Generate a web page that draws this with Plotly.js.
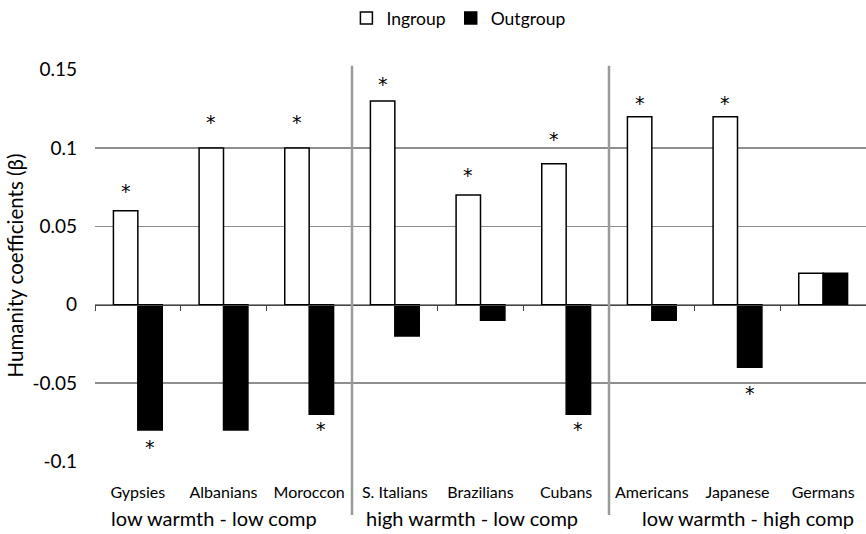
<!DOCTYPE html>
<html>
<head>
<meta charset="utf-8">
<script src="https://cdn.plot.ly/plotly-3.0.1.min.js"></script>
<style>html,body{margin:0;padding:0;background:#fff;}#chart{width:866px;height:534px;}</style>
</head>
<body>
<div id="chart"></div>
<script>
// ---- data ----
const categories = ["Gypsies", "Albanians", "Moroccon", "S. Italians", "Brazilians", "Cubans", "Americans", "Japanese", "Germans"];
const ingroup  = [0.06, 0.10, 0.10, 0.13, 0.07, 0.09, 0.12, 0.12, 0.02];
const outgroup = [-0.08, -0.08, -0.07, -0.02, -0.01, -0.07, -0.01, -0.04, 0.02];
// asterisk (significance) marks: y position of each mark, null = no mark
const starIngroup  = [0.076, 0.120, 0.120, 0.144, 0.086, 0.109, 0.132, 0.132, null];
const starOutgroup = [-0.088, null, -0.076, null, null, -0.076, null, -0.053, null];
const groupLabels = ["low warmth - low comp", "high warmth - low comp", "low warmth - high comp"];
const groupCenters = [1, 4, 7];
const yTicks = [-0.1, -0.05, 0, 0.05, 0.1, 0.15];
const yTickText = ["-0.1", "-0.05", "0", "0.05", "0.1", "0.15"];

const FONT = "Lato, 'Open Sans', sans-serif";
const STARFONT = "'DejaVu Sans', sans-serif";

const traces = [
  {type: "bar", name: "Ingroup", x: categories, y: ingroup,
   marker: {color: "#ffffff", line: {color: "#000000", width: 1.5}}, hoverinfo: "none"},
  {type: "bar", name: "Outgroup", x: categories, y: outgroup,
   marker: {color: "#000000", line: {color: "#000000", width: 1.5}}, hoverinfo: "none"}
];

const annotations = [];
const halfBar = 12.3;
categories.forEach((c, i) => {
  if (starIngroup[i] !== null) annotations.push({x: c, y: starIngroup[i], xref: "x", yref: "y", text: "*", showarrow: false, xshift: -halfBar, yshift: -5, font: {family: STARFONT, size: 19, color: "#000"}});
  if (starOutgroup[i] !== null) annotations.push({x: c, y: starOutgroup[i], xref: "x", yref: "y", text: "*", showarrow: false, xshift: halfBar, yshift: -5, font: {family: STARFONT, size: 19, color: "#000"}});
});
const groupShift = [-10, -9, 10];
groupLabels.forEach((g, k) => {
  annotations.push({x: groupCenters[k], y: -0.143, xref: "x", yref: "paper", text: g, showarrow: false, xshift: groupShift[k], yanchor: "middle", font: {family: FONT, size: 20, color: "#000"}});
});

const shapes = [2.5, 5.5].map(v => ({type: "line", xref: "x", yref: "paper", x0: v, x1: v, y0: -0.135, y1: 1.008, line: {color: "#9a9a9a", width: 2.5}, layer: "above"}));

const n = categories.length;
const layout = {
  width: 866, height: 534,
  margin: {l: 95, r: 0, t: 69, b: 72},
  paper_bgcolor: "#fff", plot_bgcolor: "#fff",
  font: {family: FONT, color: "#000"},
  barmode: "group", bargap: 0.43, bargroupgap: 0,
  showlegend: true,
  legend: {orientation: "h", xref: "container", yref: "container", x: 0.400, y: 1, xanchor: "left", yanchor: "top",
           itemwidth: 30, font: {family: FONT, size: 17.5, color: "#000"}, traceorder: "normal"},
  xaxis: {type: "category", categoryorder: "array", categoryarray: categories, range: [-0.5, n - 0.5],
          showgrid: false, zeroline: false, showline: false, ticks: "", ticklabelstandoff: 19,
          tickfont: {family: FONT, size: 16, color: "#000"}},
  xaxis2: {overlaying: "x", anchor: "free", position: (0 - (-0.1)) / (0.15 - (-0.1)), side: "bottom",
           range: [-0.5, n - 0.5], tickvals: Array.from({length: n + 1}, (_, i) => i - 0.5), showticklabels: false,
           ticks: "outside", ticklen: 5, tickcolor: "#444", tickwidth: 1, showline: true, linecolor: "#444", linewidth: 1,
           showgrid: false, zeroline: false},
  yaxis: {range: [-0.1005, 0.1505], tickvals: yTicks, ticktext: yTickText, showgrid: true, gridcolor: "#8e8e8e", gridwidth: 1.6,
          zeroline: false, showline: false, ticks: "", ticklabelstandoff: 17,
          tickfont: {family: FONT, size: 19, color: "#000"},
          title: {text: "Humanity coefficients (β)", font: {family: FONT, size: 20.5, color: "#000"}, standoff: 3}},
  annotations: annotations,
  shapes: shapes
};
// invisible trace to activate xaxis2
traces.push({type: "scatter", x: [0], y: [0], xaxis: "x2", mode: "markers", marker: {opacity: 0}, showlegend: false, hoverinfo: "none"});

Plotly.newPlot("chart", traces, layout, {staticPlot: true});
</script>
</body>
</html>
